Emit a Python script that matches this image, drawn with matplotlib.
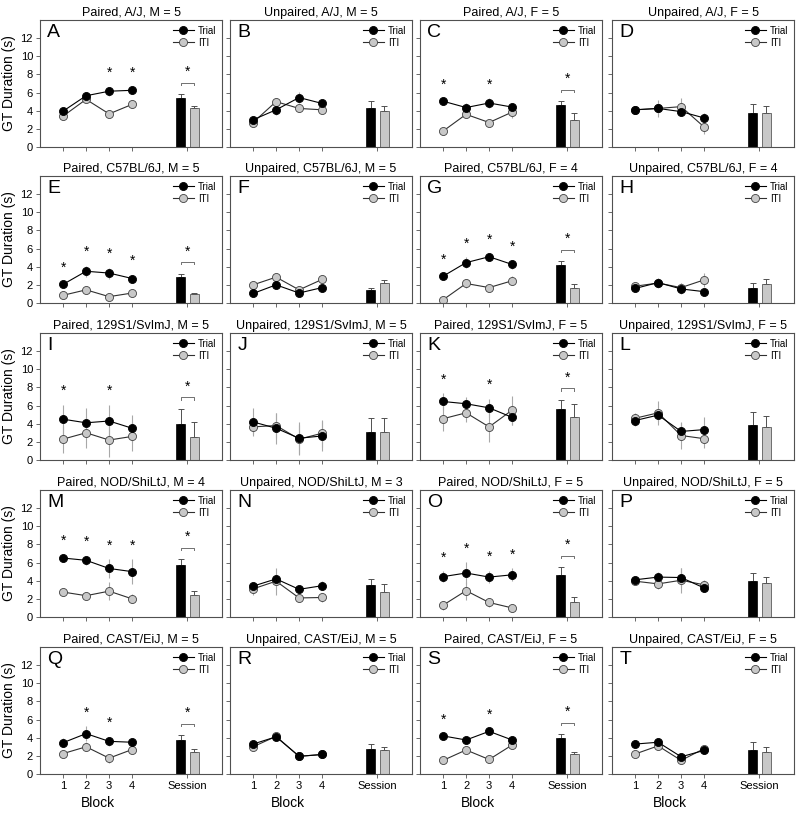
import matplotlib
matplotlib.use('Agg')

import numpy as np
import matplotlib.pyplot as plt

plt.rcParams['font.family'] = ['Liberation Sans', 'DejaVu Sans']

# ─── Data ───
letters = list("ABCDEFGHIJKLMNOPQRST")
titles = [
    "Paired, A/J, M = 5", "Unpaired, A/J, M = 5", "Paired, A/J, F = 5", "Unpaired, A/J, F = 5",
    "Paired, C57BL/6J, M = 5", "Unpaired, C57BL/6J, M = 5", "Paired, C57BL/6J, F = 4", "Unpaired, C57BL/6J, F = 4",
    "Paired, 129S1/SvImJ, M = 5", "Unpaired, 129S1/SvImJ, M = 5", "Paired, 129S1/SvImJ, F = 5", "Unpaired, 129S1/SvImJ, F = 5",
    "Paired, NOD/ShiLtJ, M = 4", "Unpaired, NOD/ShiLtJ, M = 3", "Paired, NOD/ShiLtJ, F = 5", "Unpaired, NOD/ShiLtJ, F = 5",
    "Paired, CAST/EiJ, M = 5", "Unpaired, CAST/EiJ, M = 5", "Paired, CAST/EiJ, F = 5", "Unpaired, CAST/EiJ, F = 5",
]

blocks = [1, 2, 3, 4]
xtick_labels = ['1', '2', '3', '4', 'Session']

trial_mean = [
    [3.95, 5.65, 6.15, 6.25], [3.0, 4.1, 5.45, 4.8], [5.05, 4.35, 4.85, 4.4], [4.1, 4.25, 3.9, 3.2],
    [2.05, 3.5, 3.3, 2.7], [1.05, 2.0, 1.1, 1.7], [2.95, 4.45, 5.1, 4.25], [1.6, 2.25, 1.55, 1.25],
    [4.5, 4.1, 4.3, 3.5], [4.2, 3.5, 2.4, 2.65], [6.45, 6.2, 5.75, 4.7], [4.35, 4.95, 3.15, 3.35],
    [6.5, 6.25, 5.35, 5.0], [3.4, 4.2, 3.05, 3.45], [4.45, 4.85, 4.4, 4.65], [4.1, 4.4, 4.35, 3.2],
    [3.45, 4.45, 3.6, 3.5], [3.3, 4.1, 1.95, 2.15], [4.2, 3.75, 4.7, 3.75], [3.3, 3.5, 1.9, 2.6],
]
trial_sem = [
    [0.3, 0.4, 0.5, 0.4], [0.3, 0.6, 0.6, 0.3], [0.3, 0.5, 0.5, 0.3], [0.3, 0.6, 0.5, 0.5],
    [0.3, 0.6, 0.6, 0.4], [0.2, 0.3, 0.2, 0.3], [0.3, 0.6, 0.4, 0.5], [0.4, 0.5, 0.6, 0.3],
    [1.6, 1.6, 1.8, 1.5], [1.5, 1.7, 1.8, 1.7], [0.9, 0.8, 1.0, 0.8], [0.6, 0.6, 0.9, 1.4],
    [0.4, 0.5, 1.0, 1.4], [0.4, 0.5, 0.3, 0.5], [0.6, 1.2, 0.7, 0.7], [0.3, 0.6, 1.0, 0.4],
    [0.5, 0.8, 0.5, 0.4], [0.3, 0.3, 0.2, 0.2], [0.3, 0.3, 0.3, 0.3], [0.4, 0.4, 0.3, 0.4],
]
iti_mean = [
    [3.4, 5.25, 3.65, 4.7], [2.7, 5.0, 4.25, 4.1], [1.75, 3.6, 2.7, 3.85], [4.1, 4.25, 4.45, 2.2],
    [0.85, 1.45, 0.7, 1.1], [2.0, 2.85, 1.45, 2.6], [0.35, 2.15, 1.7, 2.45], [1.85, 2.2, 1.7, 2.55],
    [2.3, 3.0, 2.2, 2.6], [3.65, 3.8, 2.3, 2.95], [4.55, 5.2, 3.65, 5.5], [4.6, 5.2, 2.7, 2.35],
    [2.75, 2.35, 2.85, 2.0], [3.1, 3.95, 2.1, 2.15], [1.3, 2.9, 1.6, 1.0], [3.95, 3.65, 4.05, 3.55],
    [2.25, 3.0, 1.75, 2.7], [3.0, 4.15, 1.95, 2.15], [1.5, 2.65, 1.6, 3.2], [2.2, 3.1, 1.5, 2.8],
]
iti_sem = [
    [0.3, 0.3, 0.3, 0.4], [0.3, 0.4, 0.4, 0.3], [0.3, 0.4, 0.4, 0.6], [0.4, 0.9, 0.9, 0.8],
    [0.2, 0.3, 0.2, 0.2], [0.2, 0.3, 0.3, 0.2], [0.3, 0.5, 0.4, 0.5], [0.4, 0.6, 0.5, 0.8],
    [1.5, 1.7, 1.9, 1.6], [0.8, 1.4, 1.6, 1.5], [1.4, 1.0, 1.7, 1.6], [0.6, 1.3, 1.5, 1.0],
    [0.3, 0.3, 1.0, 0.5], [0.7, 1.5, 0.5, 0.5], [0.5, 1.0, 0.5, 0.2], [0.3, 0.6, 1.4, 0.5],
    [0.4, 0.5, 0.5, 0.4], [0.2, 0.3, 0.2, 0.2], [0.2, 0.3, 0.3, 0.3], [0.3, 0.4, 0.3, 0.3],
]
session_trial = [5.45, 4.3, 4.6, 3.8, 2.85, 1.45, 4.15, 1.65, 3.95, 3.1, 5.65, 3.9,
                 5.75, 3.5, 4.6, 3.95, 3.7, 2.8, 4.0, 2.7]
session_trial_sem = [0.35, 0.75, 0.45, 0.9, 0.4, 0.2, 0.45, 0.6, 1.7, 1.55, 1.0, 1.4,
                     0.65, 0.7, 0.9, 0.85, 0.55, 0.5, 0.4, 0.8]
session_iti = [4.25, 4.0, 3.0, 3.7, 1.0, 2.2, 1.65, 2.05, 2.55, 3.1, 4.75, 3.65,
               2.45, 2.8, 1.65, 3.75, 2.4, 2.7, 2.2, 2.4]
session_iti_sem = [0.25, 0.5, 0.7, 0.8, 0.1, 0.3, 0.4, 0.6, 1.6, 1.55, 1.45, 1.2,
                   0.45, 0.85, 0.5, 0.65, 0.4, 0.3, 0.25, 0.6]
# blocks with a significant Trial vs ITI difference, and whether the session one is
star_blocks = [[3, 4], [], [1, 3], [], [1, 2, 3, 4], [], [1, 2, 3, 4], [],
               [1, 3], [], [1, 3], [], [1, 2, 3, 4], [], [1, 2, 3, 4], [],
               [2, 3], [], [1, 3], []]
session_star = [True, False, True, False, True, False, True, False, True, False,
                True, False, True, False, True, False, True, False, True, False]

# ─── Layout ───
W, H = 800, 815
col_left = [40, 230, 420, 612]
row_top = [20, 176, 333, 490, 647]
ax_w, ax_h = 182, 127
bar_x = [6.1, 6.7]
session_x = 6.4
gray = '#c8c8c8'
frame_col = '#505050'

fig = plt.figure(figsize=(W / 100, H / 100), dpi=100)

for i in range(20):
    r, c = divmod(i, 4)
    ax = fig.add_axes([col_left[c] / W, 1 - (row_top[r] + ax_h) / H, ax_w / W, ax_h / H])

    tm, ts = np.array(trial_mean[i]), np.array(trial_sem[i])
    im, isd = np.array(iti_mean[i]), np.array(iti_sem[i])

    # error bars on block means
    ax.errorbar(blocks, tm, yerr=ts, fmt='none', ecolor='#a8a8a8', elinewidth=0.8, zorder=1)
    ax.errorbar(blocks, im, yerr=isd, fmt='none', ecolor='#a8a8a8', elinewidth=0.8, zorder=1)
    ax.plot(blocks, tm, '-o', color='black', lw=0.8, ms=5.8, mfc='black', mec='black',
            mew=0.6, zorder=3, label='Trial')
    ax.plot(blocks, im, '-o', color='#303030', lw=0.8, ms=5.8, mfc=gray, mec='#404040',
            mew=0.6, zorder=2, label='ITI')

    # session bars
    ax.bar(bar_x[0], session_trial[i], width=0.38, color='black', edgecolor='black',
           linewidth=0.5, zorder=2)
    ax.bar(bar_x[1], session_iti[i], width=0.38, color=gray, edgecolor='#404040',
           linewidth=0.5, zorder=2)
    ax.errorbar(bar_x, [session_trial[i], session_iti[i]],
                yerr=[[0, 0], [session_trial_sem[i], session_iti_sem[i]]],
                fmt='none', ecolor='#505050', elinewidth=0.7, capsize=2, capthick=0.7, zorder=1)

    # significance stars
    for b in star_blocks[i]:
        k = b - 1
        top = max(tm[k] + ts[k], im[k] + isd[k])
        ax.text(b, top + 1.5, '*', ha='center', va='center', fontsize=10)
    if session_star[i]:
        top = max(session_trial[i] + session_trial_sem[i], session_iti[i] + session_iti_sem[i])
        yb = top + 1.25
        ax.plot([bar_x[0], bar_x[0], bar_x[1], bar_x[1]], [yb - 0.25, yb, yb, yb - 0.25],
                color='#707070', lw=0.7)
        ax.text(session_x, yb + 1.2, '*', ha='center', va='center', fontsize=10)

    ax.set_xlim(0, 7.9)
    ax.set_ylim(0, 14)
    ax.set_yticks(range(0, 13, 2))
    ax.set_xticks(blocks + [session_x])
    ax.tick_params(direction='out', length=3, width=0.6, color='#505050', labelsize=8, pad=2)
    for sp in ax.spines.values():
        sp.set_color(frame_col)
        sp.set_linewidth(0.8)

    if c == 0:
        ax.set_ylabel('GT Duration (s)', fontsize=10, labelpad=3)
    else:
        ax.set_yticklabels([])
    if r == 4:
        ax.set_xticklabels(xtick_labels, fontsize=8)
        ax.set_xlabel('Block', fontsize=10, labelpad=3)
        ax.xaxis.set_label_coords(2.5 / 7.9, -0.17)
    else:
        ax.set_xticklabels([])

    ax.set_title(titles[i], fontsize=9, pad=3)
    ax.text(0.04, 0.965, letters[i], transform=ax.transAxes, ha='left', va='top', fontsize=14)
    ax.legend(loc='upper right', frameon=False, fontsize=7, handlelength=2.2,
              handletextpad=0.4, borderaxespad=0.3, labelspacing=0.2, borderpad=0.3)

fig.savefig('out.png', dpi=100)
plt.close(fig)
